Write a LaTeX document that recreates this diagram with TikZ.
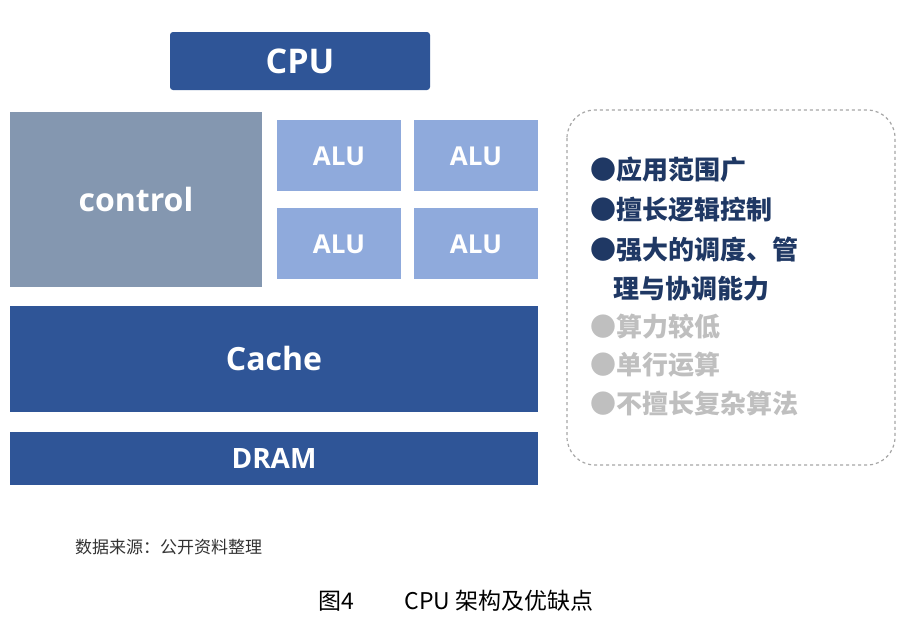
\documentclass[tikz,border=0pt]{standalone}
\usepackage{fontspec}
\setmainfont{Open Sans}
\newfontfamily\cjk{Noto Sans CJK SC}
\definecolor{dk}{HTML}{2F5597}
\definecolor{ctl}{HTML}{8497B0}
\definecolor{alu}{HTML}{8FAADC}
\definecolor{txd}{HTML}{1F3864}
\definecolor{txg}{HTML}{BFBFBF}
\begin{document}
\begin{tikzpicture}[x=1pt,y=-1pt,
  blk/.style={draw=none,inner sep=0pt,text=white,font=\bfseries},
  ln/.style={anchor=west,inner sep=0pt,font=\cjk\bfseries\fontsize{26}{26}\selectfont}]
\useasboundingbox (0,0) rectangle (908,622);
\fill[white] (0,0) rectangle (908,622);
\fill[dk,rounded corners=3] (170,32) rectangle (430,90);
\node[blk,font=\bfseries\fontsize{34}{34}\selectfont] (cpu) at (300,61) {CPU};
\fill[ctl] (10,112) rectangle (262,287);
\node[blk,font=\bfseries\fontsize{32}{32}\selectfont] (ctl) at (136,199) {control};
\foreach \n/\x/\y in {a1/277/120,a2/414/120,a3/277/208,a4/414/208}{
  \fill[alu] (\x,\y) rectangle ++(124,71);
  \node[blk,font=\bfseries\fontsize{26}{26}\selectfont] (\n) at (\x+62,\y+36) {ALU};
}
\fill[dk] (10,306) rectangle (538,412);
\node[blk,font=\bfseries\fontsize{32}{32}\selectfont] (cache) at (274,358) {Cache};
\fill[dk] (10,432) rectangle (538,485);
\node[blk,font=\bfseries\fontsize{28}{28}\selectfont] (dram) at (274,458) {DRAM};
\draw[gray!70,dashed,line width=1.2pt,rounded corners=28] (567,110) rectangle (895,465);
\node[ln,text=txd] (l1) at (590,170) {●应用范围广};
\node[ln,text=txd] (l2) at (590,210) {●擅长逻辑控制};
\node[ln,text=txd] (l3) at (590,250) {●强大的调度、管};
\node[ln,text=txd] (l4) at (613,289) {理与协调能力};
\node[ln,text=txg] (l5) at (590,327) {●算力较低};
\node[ln,text=txg] (l6) at (590,365) {●单行运算};
\node[ln,text=txg] (l7) at (590,403) {●不擅长复杂算法};
\node[anchor=west,inner sep=0pt,font=\cjk\fontsize{17}{17}\selectfont,text=black!80] (src) at (75,547) {数据来源：公开资料整理};
\node[inner sep=0pt,font=\cjk\fontsize{23}{23}\selectfont] (cap) at (456,601) {图4\hspace{2.2em}CPU 架构及优缺点};
\end{tikzpicture}
\end{document}
